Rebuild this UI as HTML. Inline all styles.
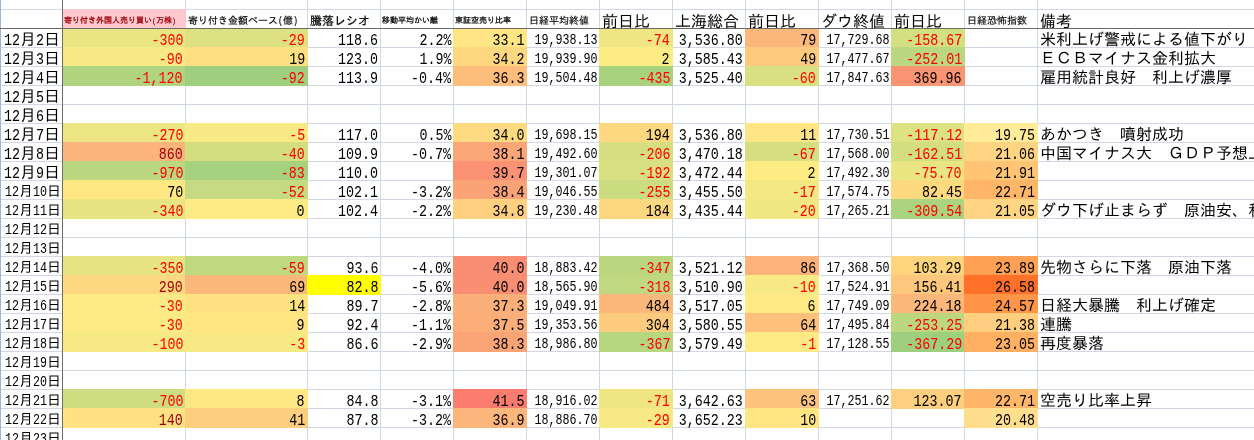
<!DOCTYPE html>
<html lang="ja"><head><meta charset="utf-8"><title>sheet</title>
<style>
html,body{margin:0;padding:0;background:#fff}
#s{position:relative;width:1254px;height:440px;overflow:hidden;background:#fff;font-family:"Liberation Mono", "IPAGothic", monospace;font-size:16px;line-height:19px;color:#000;white-space:nowrap}
#s div{position:absolute}
.v{top:0;width:1px;height:440px;background:#d0d7e5}
.g{left:0;width:1254px;height:1px;background:#d0d7e5}
.f{height:20px}
.c{height:19px;text-align:right;transform:scaleX(.8333);transform-origin:100% 50%}
.n{display:inline-block;transform:scaleX(.8333);transform-origin:0 50%;text-align:left}
.t{height:19px;text-align:left}
.r{color:#f00}.dred{color:#9c0006}
.s14{font-size:14px}
.d4{font-size:14px}
.h8{font-size:8px;-webkit-text-stroke:.25px}.h8.dred{-webkit-text-stroke:.3px}.h10{font-size:10px;-webkit-text-stroke:.15px}.h12{font-size:12px;-webkit-text-stroke:.2px}.h16{font-size:16px}
.hd{height:19px;text-align:left}
</style></head><body><div id="s">
<div class="g" style="top:9px"></div>
<div class="g" style="top:47px"></div>
<div class="g" style="top:66px"></div>
<div class="g" style="top:85px"></div>
<div class="g" style="top:104px"></div>
<div class="g" style="top:123px"></div>
<div class="g" style="top:142px"></div>
<div class="g" style="top:161px"></div>
<div class="g" style="top:180px"></div>
<div class="g" style="top:199px"></div>
<div class="g" style="top:218px"></div>
<div class="g" style="top:237px"></div>
<div class="g" style="top:256px"></div>
<div class="g" style="top:275px"></div>
<div class="g" style="top:294px"></div>
<div class="g" style="top:313px"></div>
<div class="g" style="top:332px"></div>
<div class="g" style="top:351px"></div>
<div class="g" style="top:370px"></div>
<div class="g" style="top:389px"></div>
<div class="g" style="top:408px"></div>
<div class="g" style="top:427px"></div>
<div class="g" style="top:446px"></div>
<div class="v" style="left:185px"></div>
<div class="v" style="left:307px"></div>
<div class="v" style="left:380px"></div>
<div class="v" style="left:453px"></div>
<div class="v" style="left:526px"></div>
<div class="v" style="left:599px"></div>
<div class="v" style="left:672px"></div>
<div class="v" style="left:745px"></div>
<div class="v" style="left:818px"></div>
<div class="v" style="left:891px"></div>
<div class="v" style="left:964px"></div>
<div class="v" style="left:1037px"></div>
<div class="v" style="left:0;background:#9eb6ce"></div>
<div style="left:62px;top:9px;width:124px;height:20px;background:#ffc7ce"></div>
<div class="f" style="left:62px;top:28px;width:124px;background:#e9e583"></div>
<div class="f" style="left:185px;top:28px;width:123px;background:#dee182"></div>
<div class="f" style="left:453px;top:28px;width:74px;background:#ffe583"></div>
<div class="f" style="left:599px;top:28px;width:74px;background:#efe683"></div>
<div class="f" style="left:745px;top:28px;width:74px;background:#fcb77a"></div>
<div class="f" style="left:891px;top:28px;width:74px;background:#d4df82"></div>
<div class="f" style="left:62px;top:47px;width:124px;background:#f7e984"></div>
<div class="f" style="left:185px;top:47px;width:123px;background:#fedf82"></div>
<div class="f" style="left:453px;top:47px;width:74px;background:#fed780"></div>
<div class="f" style="left:599px;top:47px;width:74px;background:#fdeb84"></div>
<div class="f" style="left:745px;top:47px;width:74px;background:#fdcb7e"></div>
<div class="f" style="left:891px;top:47px;width:74px;background:#bbd780"></div>
<div class="f" style="left:62px;top:66px;width:124px;background:#b1d480"></div>
<div class="f" style="left:185px;top:66px;width:123px;background:#9dcf7e"></div>
<div class="f" style="left:453px;top:66px;width:74px;background:#fdbd7b"></div>
<div class="f" style="left:599px;top:66px;width:74px;background:#a9d27f"></div>
<div class="f" style="left:745px;top:66px;width:74px;background:#d9e082"></div>
<div class="f" style="left:891px;top:66px;width:74px;background:#fa9473"></div>
<div class="f" style="left:62px;top:123px;width:124px;background:#ebe583"></div>
<div class="f" style="left:185px;top:123px;width:123px;background:#f7e984"></div>
<div class="f" style="left:453px;top:123px;width:74px;background:#feda81"></div>
<div class="f" style="left:599px;top:123px;width:74px;background:#fed780"></div>
<div class="f" style="left:745px;top:123px;width:74px;background:#ffe583"></div>
<div class="f" style="left:891px;top:123px;width:74px;background:#dfe282"></div>
<div class="f" style="left:964px;top:123px;width:74px;background:#ffeb99"></div>
<div class="f" style="left:62px;top:142px;width:124px;background:#fcb47a"></div>
<div class="f" style="left:185px;top:142px;width:123px;background:#d3de81"></div>
<div class="f" style="left:453px;top:142px;width:74px;background:#fba677"></div>
<div class="f" style="left:599px;top:142px;width:74px;background:#d5df82"></div>
<div class="f" style="left:745px;top:142px;width:74px;background:#d5df82"></div>
<div class="f" style="left:891px;top:142px;width:74px;background:#d3de81"></div>
<div class="f" style="left:964px;top:142px;width:74px;background:#ffd483"></div>
<div class="f" style="left:62px;top:161px;width:124px;background:#bbd780"></div>
<div class="f" style="left:185px;top:161px;width:123px;background:#a6d17f"></div>
<div class="f" style="left:453px;top:161px;width:74px;background:#fa9273"></div>
<div class="f" style="left:599px;top:161px;width:74px;background:#d8e082"></div>
<div class="f" style="left:745px;top:161px;width:74px;background:#feeb84"></div>
<div class="f" style="left:891px;top:161px;width:74px;background:#eae583"></div>
<div class="f" style="left:964px;top:161px;width:74px;background:#ffc575"></div>
<div class="f" style="left:62px;top:180px;width:124px;background:#ffe883"></div>
<div class="f" style="left:185px;top:180px;width:123px;background:#c6db81"></div>
<div class="f" style="left:453px;top:180px;width:74px;background:#fba376"></div>
<div class="f" style="left:599px;top:180px;width:74px;background:#ccdc81"></div>
<div class="f" style="left:745px;top:180px;width:74px;background:#f3e883"></div>
<div class="f" style="left:891px;top:180px;width:74px;background:#fed980"></div>
<div class="f" style="left:964px;top:180px;width:74px;background:#ffb668"></div>
<div class="f" style="left:62px;top:199px;width:124px;background:#e6e483"></div>
<div class="f" style="left:185px;top:199px;width:123px;background:#fcea84"></div>
<div class="f" style="left:453px;top:199px;width:74px;background:#fed07f"></div>
<div class="f" style="left:599px;top:199px;width:74px;background:#fed880"></div>
<div class="f" style="left:745px;top:199px;width:74px;background:#f1e783"></div>
<div class="f" style="left:891px;top:199px;width:74px;background:#acd37f"></div>
<div class="f" style="left:964px;top:199px;width:74px;background:#ffd483"></div>
<div class="f" style="left:62px;top:256px;width:124px;background:#e6e483"></div>
<div class="f" style="left:185px;top:256px;width:123px;background:#bfd980"></div>
<div class="f" style="left:453px;top:256px;width:74px;background:#fa8e72"></div>
<div class="f" style="left:599px;top:256px;width:74px;background:#bad780"></div>
<div class="f" style="left:745px;top:256px;width:74px;background:#fcb279"></div>
<div class="f" style="left:891px;top:256px;width:74px;background:#fed47f"></div>
<div class="f" style="left:964px;top:256px;width:74px;background:#ffa154"></div>
<div class="f" style="left:62px;top:275px;width:124px;background:#fed981"></div>
<div class="f" style="left:185px;top:275px;width:123px;background:#fcb87a"></div>
<div class="f" style="left:307px;top:275px;width:74px;background:#ffff00"></div>
<div class="f" style="left:453px;top:275px;width:74px;background:#fa8e72"></div>
<div class="f" style="left:599px;top:275px;width:74px;background:#c0d980"></div>
<div class="f" style="left:745px;top:275px;width:74px;background:#f7e984"></div>
<div class="f" style="left:891px;top:275px;width:74px;background:#fdc77d"></div>
<div class="f" style="left:964px;top:275px;width:74px;background:#ff7128"></div>
<div class="f" style="left:62px;top:294px;width:124px;background:#fcea84"></div>
<div class="f" style="left:185px;top:294px;width:123px;background:#ffe382"></div>
<div class="f" style="left:453px;top:294px;width:74px;background:#fcb079"></div>
<div class="f" style="left:599px;top:294px;width:74px;background:#fcb77a"></div>
<div class="f" style="left:745px;top:294px;width:74px;background:#ffe984"></div>
<div class="f" style="left:891px;top:294px;width:74px;background:#fcb77a"></div>
<div class="f" style="left:964px;top:294px;width:74px;background:#ff9549"></div>
<div class="f" style="left:62px;top:313px;width:124px;background:#fcea84"></div>
<div class="f" style="left:185px;top:313px;width:123px;background:#ffe683"></div>
<div class="f" style="left:453px;top:313px;width:74px;background:#fcae78"></div>
<div class="f" style="left:599px;top:313px;width:74px;background:#fdcb7e"></div>
<div class="f" style="left:745px;top:313px;width:74px;background:#fdc17c"></div>
<div class="f" style="left:891px;top:313px;width:74px;background:#bbd780"></div>
<div class="f" style="left:964px;top:313px;width:74px;background:#ffce7e"></div>
<div class="f" style="left:62px;top:332px;width:124px;background:#f7e984"></div>
<div class="f" style="left:185px;top:332px;width:123px;background:#f9e984"></div>
<div class="f" style="left:453px;top:332px;width:74px;background:#fba476"></div>
<div class="f" style="left:599px;top:332px;width:74px;background:#b6d680"></div>
<div class="f" style="left:745px;top:332px;width:74px;background:#fdea84"></div>
<div class="f" style="left:891px;top:332px;width:74px;background:#9dcf7e"></div>
<div class="f" style="left:964px;top:332px;width:74px;background:#ffb062"></div>
<div class="f" style="left:62px;top:389px;width:124px;background:#cedd81"></div>
<div class="f" style="left:185px;top:389px;width:123px;background:#ffe783"></div>
<div class="f" style="left:453px;top:389px;width:74px;background:#f97c6f"></div>
<div class="f" style="left:599px;top:389px;width:74px;background:#efe683"></div>
<div class="f" style="left:745px;top:389px;width:74px;background:#fdc27c"></div>
<div class="f" style="left:891px;top:389px;width:74px;background:#fdcf7f"></div>
<div class="f" style="left:964px;top:389px;width:74px;background:#ffb668"></div>
<div class="f" style="left:62px;top:408px;width:124px;background:#ffe382"></div>
<div class="f" style="left:185px;top:408px;width:123px;background:#fdce7e"></div>
<div class="f" style="left:453px;top:408px;width:74px;background:#fcb57a"></div>
<div class="f" style="left:599px;top:408px;width:74px;background:#f7e984"></div>
<div class="f" style="left:745px;top:408px;width:74px;background:#ffe683"></div>
<div class="f" style="left:964px;top:408px;width:74px;background:#ffde8d"></div>
<div style="left:62px;top:0;width:1px;height:440px;background:#6b6b6b"></div>
<div style="left:0;top:28px;width:1254px;height:1px;background:#6b6b6b"></div>
<div class="hd h8 dred" style="left:64px;top:11px;width:122px">寄り付き外国人売り買い<span class="n" style="width:4px">(</span>万株<span class="n" style="width:4px">)</span></div>
<div class="hd h10" style="left:188px;top:12px;width:121px">寄り付き金額ベース<span class="n" style="width:5px">(</span>億<span class="n" style="width:5px">)</span></div>
<div class="hd h12" style="left:310px;top:13px;width:72px">騰落レシオ</div>
<div class="hd h8" style="left:382px;top:11px;width:72px">移動平均かい離</div>
<div class="hd h8" style="left:455px;top:11px;width:72px">東証空売り比率</div>
<div class="hd h10" style="left:529px;top:12px;width:72px">日経平均終値</div>
<div class="hd h16" style="left:602px;top:14px;width:72px">前日比</div>
<div class="hd h16" style="left:675px;top:14px;width:72px">上海総合</div>
<div class="hd h16" style="left:748px;top:14px;width:72px">前日比</div>
<div class="hd h16" style="left:821px;top:14px;width:72px">ダウ終値</div>
<div class="hd h16" style="left:894px;top:14px;width:72px">前日比</div>
<div class="hd h10" style="left:967px;top:12px;width:72px">日経恐怖指数</div>
<div class="hd h16" style="left:1040px;top:14px;width:216px">備考</div>
<div class="t" style="left:4px;top:32px;width:60px"><span class="n" style="width:16px">12</span>月<span class="n" style="width:8px">2</span>日</div>
<div class="c r" style="right:1071px;top:32px">-300</div>
<div class="c r" style="right:949px;top:32px">-29</div>
<div class="c" style="right:876px;top:32px">118.6</div>
<div class="c" style="right:803px;top:32px">2.2%</div>
<div class="c" style="right:730px;top:32px">33.1</div>
<div class="c s14" style="right:656px;top:31px">19,938.13</div>
<div class="c r" style="right:584px;top:32px">-74</div>
<div class="c" style="right:511px;top:32px">3,536.80</div>
<div class="c" style="right:438px;top:32px">79</div>
<div class="c s14" style="right:364px;top:31px">17,729.68</div>
<div class="c r" style="right:292px;top:32px">-158.67</div>
<div class="t" style="left:1040px;top:32px">米利上げ警戒による値下がり</div>
<div class="t" style="left:4px;top:51px;width:60px"><span class="n" style="width:16px">12</span>月<span class="n" style="width:8px">3</span>日</div>
<div class="c r" style="right:1071px;top:51px">-90</div>
<div class="c" style="right:949px;top:51px">19</div>
<div class="c" style="right:876px;top:51px">123.0</div>
<div class="c" style="right:803px;top:51px">1.9%</div>
<div class="c" style="right:730px;top:51px">34.2</div>
<div class="c s14" style="right:656px;top:50px">19,939.90</div>
<div class="c" style="right:584px;top:51px">2</div>
<div class="c" style="right:511px;top:51px">3,585.43</div>
<div class="c" style="right:438px;top:51px">49</div>
<div class="c s14" style="right:364px;top:50px">17,477.67</div>
<div class="c r" style="right:292px;top:51px">-252.01</div>
<div class="t" style="left:1040px;top:51px">ＥＣＢマイナス金利拡大</div>
<div class="t" style="left:4px;top:70px;width:60px"><span class="n" style="width:16px">12</span>月<span class="n" style="width:8px">4</span>日</div>
<div class="c r" style="right:1071px;top:70px">-1,120</div>
<div class="c r" style="right:949px;top:70px">-92</div>
<div class="c" style="right:876px;top:70px">113.9</div>
<div class="c" style="right:803px;top:70px">-0.4%</div>
<div class="c" style="right:730px;top:70px">36.3</div>
<div class="c s14" style="right:656px;top:69px">19,504.48</div>
<div class="c r" style="right:584px;top:70px">-435</div>
<div class="c" style="right:511px;top:70px">3,525.40</div>
<div class="c r" style="right:438px;top:70px">-60</div>
<div class="c s14" style="right:364px;top:69px">17,847.63</div>
<div class="c" style="right:292px;top:70px">369.96</div>
<div class="t" style="left:1040px;top:70px">雇用統計良好　利上げ濃厚</div>
<div class="t" style="left:4px;top:89px;width:60px"><span class="n" style="width:16px">12</span>月<span class="n" style="width:8px">5</span>日</div>
<div class="t" style="left:4px;top:108px;width:60px"><span class="n" style="width:16px">12</span>月<span class="n" style="width:8px">6</span>日</div>
<div class="t" style="left:4px;top:127px;width:60px"><span class="n" style="width:16px">12</span>月<span class="n" style="width:8px">7</span>日</div>
<div class="c r" style="right:1071px;top:127px">-270</div>
<div class="c r" style="right:949px;top:127px">-5</div>
<div class="c" style="right:876px;top:127px">117.0</div>
<div class="c" style="right:803px;top:127px">0.5%</div>
<div class="c" style="right:730px;top:127px">34.0</div>
<div class="c s14" style="right:656px;top:126px">19,698.15</div>
<div class="c" style="right:584px;top:127px">194</div>
<div class="c" style="right:511px;top:127px">3,536.80</div>
<div class="c" style="right:438px;top:127px">11</div>
<div class="c s14" style="right:364px;top:126px">17,730.51</div>
<div class="c r" style="right:292px;top:127px">-117.12</div>
<div class="c" style="right:219px;top:127px">19.75</div>
<div class="t" style="left:1040px;top:127px">あかつき　噴射成功</div>
<div class="t" style="left:4px;top:146px;width:60px"><span class="n" style="width:16px">12</span>月<span class="n" style="width:8px">8</span>日</div>
<div class="c dred" style="right:1071px;top:146px">860</div>
<div class="c r" style="right:949px;top:146px">-40</div>
<div class="c" style="right:876px;top:146px">109.9</div>
<div class="c" style="right:803px;top:146px">-0.7%</div>
<div class="c" style="right:730px;top:146px">38.1</div>
<div class="c s14" style="right:656px;top:145px">19,492.60</div>
<div class="c r" style="right:584px;top:146px">-206</div>
<div class="c" style="right:511px;top:146px">3,470.18</div>
<div class="c r" style="right:438px;top:146px">-67</div>
<div class="c s14" style="right:364px;top:145px">17,568.00</div>
<div class="c r" style="right:292px;top:146px">-162.51</div>
<div class="c" style="right:219px;top:146px">21.06</div>
<div class="t" style="left:1040px;top:146px">中国マイナス大　ＧＤＰ予想上方修正</div>
<div class="t" style="left:4px;top:165px;width:60px"><span class="n" style="width:16px">12</span>月<span class="n" style="width:8px">9</span>日</div>
<div class="c r" style="right:1071px;top:165px">-970</div>
<div class="c r" style="right:949px;top:165px">-83</div>
<div class="c" style="right:876px;top:165px">110.0</div>
<div class="c" style="right:730px;top:165px">39.7</div>
<div class="c s14" style="right:656px;top:164px">19,301.07</div>
<div class="c r" style="right:584px;top:165px">-192</div>
<div class="c" style="right:511px;top:165px">3,472.44</div>
<div class="c" style="right:438px;top:165px">2</div>
<div class="c s14" style="right:364px;top:164px">17,492.30</div>
<div class="c r" style="right:292px;top:165px">-75.70</div>
<div class="c" style="right:219px;top:165px">21.91</div>
<div class="t d4" style="left:5px;top:183px;width:60px"><span class="n" style="width:14px">12</span>月<span class="n" style="width:14px">10</span>日</div>
<div class="c" style="right:1071px;top:184px">70</div>
<div class="c r" style="right:949px;top:184px">-52</div>
<div class="c" style="right:876px;top:184px">102.1</div>
<div class="c" style="right:803px;top:184px">-3.2%</div>
<div class="c" style="right:730px;top:184px">38.4</div>
<div class="c s14" style="right:656px;top:183px">19,046.55</div>
<div class="c r" style="right:584px;top:184px">-255</div>
<div class="c" style="right:511px;top:184px">3,455.50</div>
<div class="c r" style="right:438px;top:184px">-17</div>
<div class="c s14" style="right:364px;top:183px">17,574.75</div>
<div class="c" style="right:292px;top:184px">82.45</div>
<div class="c" style="right:219px;top:184px">22.71</div>
<div class="t d4" style="left:5px;top:202px;width:60px"><span class="n" style="width:14px">12</span>月<span class="n" style="width:14px">11</span>日</div>
<div class="c r" style="right:1071px;top:203px">-340</div>
<div class="c" style="right:949px;top:203px">0</div>
<div class="c" style="right:876px;top:203px">102.4</div>
<div class="c" style="right:803px;top:203px">-2.2%</div>
<div class="c" style="right:730px;top:203px">34.8</div>
<div class="c s14" style="right:656px;top:202px">19,230.48</div>
<div class="c" style="right:584px;top:203px">184</div>
<div class="c" style="right:511px;top:203px">3,435.44</div>
<div class="c r" style="right:438px;top:203px">-20</div>
<div class="c s14" style="right:364px;top:202px">17,265.21</div>
<div class="c r" style="right:292px;top:203px">-309.54</div>
<div class="c" style="right:219px;top:203px">21.05</div>
<div class="t" style="left:1040px;top:203px">ダウ下げ止まらず　原油安、利上げ</div>
<div class="t d4" style="left:5px;top:221px;width:60px"><span class="n" style="width:14px">12</span>月<span class="n" style="width:14px">12</span>日</div>
<div class="t d4" style="left:5px;top:240px;width:60px"><span class="n" style="width:14px">12</span>月<span class="n" style="width:14px">13</span>日</div>
<div class="t d4" style="left:5px;top:259px;width:60px"><span class="n" style="width:14px">12</span>月<span class="n" style="width:14px">14</span>日</div>
<div class="c r" style="right:1071px;top:260px">-350</div>
<div class="c r" style="right:949px;top:260px">-59</div>
<div class="c" style="right:876px;top:260px">93.6</div>
<div class="c" style="right:803px;top:260px">-4.0%</div>
<div class="c" style="right:730px;top:260px">40.0</div>
<div class="c s14" style="right:656px;top:259px">18,883.42</div>
<div class="c r" style="right:584px;top:260px">-347</div>
<div class="c" style="right:511px;top:260px">3,521.12</div>
<div class="c" style="right:438px;top:260px">86</div>
<div class="c s14" style="right:364px;top:259px">17,368.50</div>
<div class="c" style="right:292px;top:260px">103.29</div>
<div class="c" style="right:219px;top:260px">23.89</div>
<div class="t" style="left:1040px;top:260px">先物さらに下落　原油下落</div>
<div class="t d4" style="left:5px;top:278px;width:60px"><span class="n" style="width:14px">12</span>月<span class="n" style="width:14px">15</span>日</div>
<div class="c dred" style="right:1071px;top:279px">290</div>
<div class="c" style="right:949px;top:279px">69</div>
<div class="c" style="right:876px;top:279px">82.8</div>
<div class="c" style="right:803px;top:279px">-5.6%</div>
<div class="c" style="right:730px;top:279px">40.0</div>
<div class="c s14" style="right:656px;top:278px">18,565.90</div>
<div class="c r" style="right:584px;top:279px">-318</div>
<div class="c" style="right:511px;top:279px">3,510.90</div>
<div class="c r" style="right:438px;top:279px">-10</div>
<div class="c s14" style="right:364px;top:278px">17,524.91</div>
<div class="c" style="right:292px;top:279px">156.41</div>
<div class="c" style="right:219px;top:279px">26.58</div>
<div class="t d4" style="left:5px;top:297px;width:60px"><span class="n" style="width:14px">12</span>月<span class="n" style="width:14px">16</span>日</div>
<div class="c r" style="right:1071px;top:298px">-30</div>
<div class="c" style="right:949px;top:298px">14</div>
<div class="c" style="right:876px;top:298px">89.7</div>
<div class="c" style="right:803px;top:298px">-2.8%</div>
<div class="c" style="right:730px;top:298px">37.3</div>
<div class="c s14" style="right:656px;top:297px">19,049.91</div>
<div class="c" style="right:584px;top:298px">484</div>
<div class="c" style="right:511px;top:298px">3,517.05</div>
<div class="c" style="right:438px;top:298px">6</div>
<div class="c s14" style="right:364px;top:297px">17,749.09</div>
<div class="c" style="right:292px;top:298px">224.18</div>
<div class="c" style="right:219px;top:298px">24.57</div>
<div class="t" style="left:1040px;top:298px">日経大暴騰　利上げ確定</div>
<div class="t d4" style="left:5px;top:316px;width:60px"><span class="n" style="width:14px">12</span>月<span class="n" style="width:14px">17</span>日</div>
<div class="c r" style="right:1071px;top:317px">-30</div>
<div class="c" style="right:949px;top:317px">9</div>
<div class="c" style="right:876px;top:317px">92.4</div>
<div class="c" style="right:803px;top:317px">-1.1%</div>
<div class="c" style="right:730px;top:317px">37.5</div>
<div class="c s14" style="right:656px;top:316px">19,353.56</div>
<div class="c" style="right:584px;top:317px">304</div>
<div class="c" style="right:511px;top:317px">3,580.55</div>
<div class="c" style="right:438px;top:317px">64</div>
<div class="c s14" style="right:364px;top:316px">17,495.84</div>
<div class="c r" style="right:292px;top:317px">-253.25</div>
<div class="c" style="right:219px;top:317px">21.38</div>
<div class="t" style="left:1040px;top:317px">連騰</div>
<div class="t d4" style="left:5px;top:335px;width:60px"><span class="n" style="width:14px">12</span>月<span class="n" style="width:14px">18</span>日</div>
<div class="c r" style="right:1071px;top:336px">-100</div>
<div class="c r" style="right:949px;top:336px">-3</div>
<div class="c" style="right:876px;top:336px">86.6</div>
<div class="c" style="right:803px;top:336px">-2.9%</div>
<div class="c" style="right:730px;top:336px">38.3</div>
<div class="c s14" style="right:656px;top:335px">18,986.80</div>
<div class="c r" style="right:584px;top:336px">-367</div>
<div class="c" style="right:511px;top:336px">3,579.49</div>
<div class="c r" style="right:438px;top:336px">-1</div>
<div class="c s14" style="right:364px;top:335px">17,128.55</div>
<div class="c r" style="right:292px;top:336px">-367.29</div>
<div class="c" style="right:219px;top:336px">23.05</div>
<div class="t" style="left:1040px;top:336px">再度暴落</div>
<div class="t d4" style="left:5px;top:354px;width:60px"><span class="n" style="width:14px">12</span>月<span class="n" style="width:14px">19</span>日</div>
<div class="t d4" style="left:5px;top:373px;width:60px"><span class="n" style="width:14px">12</span>月<span class="n" style="width:14px">20</span>日</div>
<div class="t d4" style="left:5px;top:392px;width:60px"><span class="n" style="width:14px">12</span>月<span class="n" style="width:14px">21</span>日</div>
<div class="c r" style="right:1071px;top:393px">-700</div>
<div class="c" style="right:949px;top:393px">8</div>
<div class="c" style="right:876px;top:393px">84.8</div>
<div class="c" style="right:803px;top:393px">-3.1%</div>
<div class="c" style="right:730px;top:393px">41.5</div>
<div class="c s14" style="right:656px;top:392px">18,916.02</div>
<div class="c r" style="right:584px;top:393px">-71</div>
<div class="c" style="right:511px;top:393px">3,642.63</div>
<div class="c" style="right:438px;top:393px">63</div>
<div class="c s14" style="right:364px;top:392px">17,251.62</div>
<div class="c" style="right:292px;top:393px">123.07</div>
<div class="c" style="right:219px;top:393px">22.71</div>
<div class="t" style="left:1040px;top:393px">空売り比率上昇</div>
<div class="t d4" style="left:5px;top:411px;width:60px"><span class="n" style="width:14px">12</span>月<span class="n" style="width:14px">22</span>日</div>
<div class="c dred" style="right:1071px;top:412px">140</div>
<div class="c" style="right:949px;top:412px">41</div>
<div class="c" style="right:876px;top:412px">87.8</div>
<div class="c" style="right:803px;top:412px">-3.2%</div>
<div class="c" style="right:730px;top:412px">36.9</div>
<div class="c s14" style="right:656px;top:411px">18,886.70</div>
<div class="c r" style="right:584px;top:412px">-29</div>
<div class="c" style="right:511px;top:412px">3,652.23</div>
<div class="c" style="right:438px;top:412px">10</div>
<div class="c" style="right:219px;top:412px">20.48</div>
<div class="t d4" style="left:5px;top:430px;width:60px"><span class="n" style="width:14px">12</span>月<span class="n" style="width:14px">23</span>日</div>
</div></body></html>
